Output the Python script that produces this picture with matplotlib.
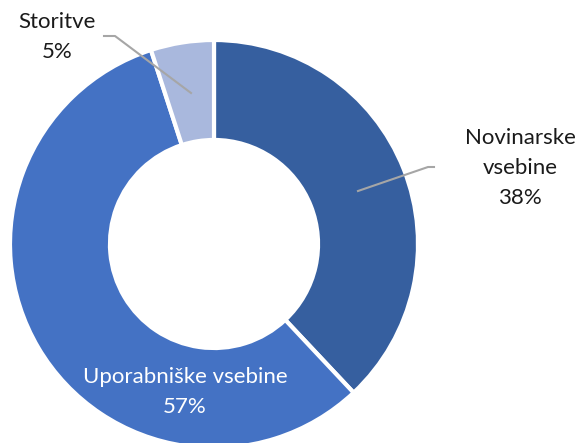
import matplotlib
matplotlib.use("Agg")
import matplotlib.pyplot as plt

categories = ["Novinarske\nvsebine", "Uporabniške vsebine", "Storitve"]
values = [38, 57, 5]
pct_labels = ["38%", "57%", "5%"]
colors = ["#365F9F", "#4472C4", "#A9B8DD"]

W, H = 579, 443
fig = plt.figure(figsize=(W / 100, H / 100), dpi=100)
ax = fig.add_axes([0, 0, 1, 1])

cx, cy, R = 214, H - 244, 204
wedges, _ = ax.pie(values, colors=colors, startangle=90, counterclock=False,
                   center=(cx, cy), radius=R, frame=True,
                   wedgeprops=dict(width=R * 0.49, edgecolor="white", linewidth=3))
ax.set_xlim(0, W)
ax.set_ylim(0, H)
ax.set_aspect("equal")
ax.axis("off")

font = ["Lato", "DejaVu Sans"]
fs = 16
ls = 1.6

# Novinarske label
ax.text(520, H - 168, categories[0] + "\n" + pct_labels[0], ha="center", va="center",
        fontsize=fs, family=font, color="#1a1a1a", linespacing=ls)
ax.plot([434, 428, 358], [H - 167, H - 167, H - 191], color="#A6A6A6", lw=1.5)

# Uporabniške label
ax.text(185, H - 392, categories[1] + "\n" + pct_labels[1], ha="center", va="center",
        fontsize=fs, family=font, color="white", linespacing=ls)

# Storitve label
ax.text(57, H - 37, categories[2] + "\n" + pct_labels[2], ha="center", va="center",
        fontsize=fs, family=font, color="#1a1a1a", linespacing=ls)
ax.plot([104, 115, 191], [H - 36, H - 36, H - 93], color="#A6A6A6", lw=1.5)

fig.savefig("out.png", dpi=100)
